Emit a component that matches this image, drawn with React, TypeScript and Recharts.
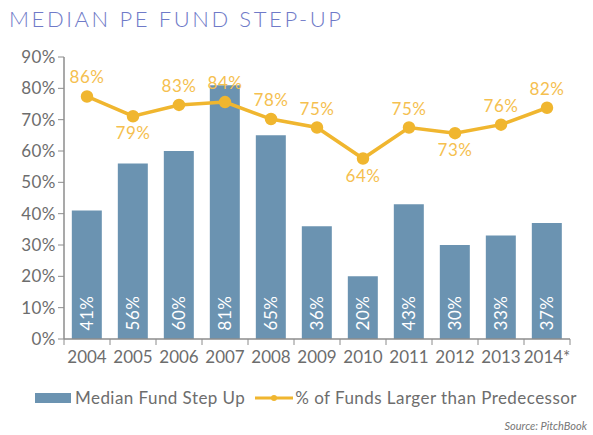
import React from 'react';
import {
  ComposedChart,
  Bar,
  Line,
  XAxis,
  YAxis,
  Legend,
  LabelList,
} from 'recharts';

const years = ['2004', '2005', '2006', '2007', '2008', '2009', '2010', '2011', '2012', '2013', '2014*'];
const medianStepUp = [41, 56, 60, 81, 65, 36, 20, 43, 30, 33, 37];
const pctLarger = [86, 79, 83, 84, 78, 75, 64, 75, 73, 76, 82];
const yTicks = [0, 10, 20, 30, 40, 50, 60, 70, 80, 90];
// labels that sit under the point instead of above it
const labelsBelow = ['2005', '2010', '2012'];

const data = years.map((year, i) => ({
  year,
  step: medianStepUp[i],
  larger: pctLarger[i],
}));

const W = 593;
const H = 435;
const MARGIN = { top: 57, right: 23, left: 10, bottom: 22 };
const Y_WIDTH = 54;
const BAND = (W - MARGIN.left - MARGIN.right - Y_WIDTH) / years.length;

const BAR = '#6b93b1';
const GOLD = '#f0b62f';
const GOLD_TEXT = '#f5c04f';
const AXIS = '#8c8c8c';
const TICK_TEXT = '#6d6d6d';
const FONT = 'Lato, "Open Sans", sans-serif';

// year label plus the small tick marks that sit between the categories
const YearTick = (props: any) => {
  const { x, y, payload, index } = props;
  const last = index === years.length - 1;
  return (
    <g>
      <line x1={x - BAND / 2} y1={y} x2={x - BAND / 2} y2={y + 6} stroke={AXIS} />
      {last && <line x1={x + BAND / 2} y1={y} x2={x + BAND / 2} y2={y + 6} stroke={AXIS} />}
      <text
        x={x}
        y={y + 24}
        textAnchor="middle"
        fill={TICK_TEXT}
        fontSize={17}
        fontFamily={FONT}
      >
        {payload.value}
      </text>
    </g>
  );
};

const BarValue = (props: any) => {
  const { x, y, width, height, value } = props;
  const cx = x + width / 2;
  const cy = y + height - 26;
  return (
    <text
      x={cx}
      y={cy}
      transform={`rotate(-90 ${cx} ${cy})`}
      textAnchor="middle"
      dominantBaseline="central"
      fill="#ffffff"
      fontSize={17}
      fontFamily={FONT}
      style={{ letterSpacing: 0.5 }}
    >
      {value}%
    </text>
  );
};

const LineValue = (props: any) => {
  const { x, y, value, index } = props;
  const below = labelsBelow.includes(years[index]);
  return (
    <text
      x={x}
      y={below ? y + 23 : y - 13}
      textAnchor="middle"
      fill={GOLD_TEXT}
      fontSize={17}
      fontFamily={FONT}
      style={{ letterSpacing: 0.5 }}
    >
      {value}%
    </text>
  );
};

const LegendContent = () => (
  <div
    style={{
      display: 'flex',
      alignItems: 'center',
      whiteSpace: 'nowrap',
      fontFamily: FONT,
      fontSize: 17,
      letterSpacing: 0.45,
      color: TICK_TEXT,
      paddingLeft: 25,
    }}
  >
    <svg width={36} height={10} style={{ marginRight: 4, flex: 'none' }}>
      <rect x={0} y={0} width={36} height={10} fill={BAR} />
    </svg>
    <span>Median Fund Step Up</span>
    <svg width={38} height={10} style={{ marginLeft: 10, marginRight: 2, flex: 'none' }}>
      <line x1={0} y1={5} x2={38} y2={5} stroke={GOLD} strokeWidth={3} />
      <circle cx={19} cy={5} r={3} fill={GOLD} />
    </svg>
    <span>% of Funds Larger than Predecessor</span>
  </div>
);

export default function App() {
  return (
    <div
      style={{
        position: 'absolute',
        left: 0,
        top: 0,
        width: W,
        height: H,
        background: '#ffffff',
      }}
    >
      <div
        style={{
          position: 'absolute',
          left: 9,
          top: 5,
          fontFamily: FONT,
          fontSize: 22,
          letterSpacing: 2.6,
          color: '#6f7ac8',
          fontWeight: 300,
        }}
      >
        MEDIAN PE FUND STEP-UP
      </div>
      <ComposedChart
        width={W}
        height={H}
        data={data}
        margin={MARGIN}
        barCategoryGap="17%"
      >
        <XAxis
          dataKey="year"
          height={48}
          axisLine={{ stroke: AXIS, strokeWidth: 1.5 }}
          tickLine={false}
          tickSize={0}
          tickMargin={0}
          tick={<YearTick />}
          interval={0}
        />
        <YAxis
          yAxisId="left"
          domain={[0, 90]}
          ticks={yTicks}
          width={Y_WIDTH}
          axisLine={{ stroke: AXIS, strokeWidth: 1.5 }}
          tickLine={{ stroke: AXIS }}
          tickSize={6}
          tick={{ fill: TICK_TEXT, fontSize: 17, fontFamily: FONT, style: { letterSpacing: 0.5 } }}
          tickFormatter={(v: number) => `${v}%`}
        />
        <YAxis yAxisId="right" orientation="right" domain={[0, 100]} hide />
        <Legend
          verticalAlign="bottom"
          height={26}
          wrapperStyle={{ left: 10, width: 580 }}
          content={<LegendContent />}
        />
        <Bar
          yAxisId="left"
          dataKey="step"
          name="Median Fund Step Up"
          fill={BAR}
          isAnimationActive={false}
        >
          <LabelList dataKey="step" content={<BarValue />} />
        </Bar>
        <Line
          yAxisId="right"
          dataKey="larger"
          name="% of Funds Larger than Predecessor"
          stroke={GOLD}
          strokeWidth={3.5}
          dot={{ r: 4.5, fill: GOLD, stroke: GOLD }}
          activeDot={false}
          isAnimationActive={false}
        >
          <LabelList dataKey="larger" content={<LineValue />} />
        </Line>
      </ComposedChart>
      <div
        style={{
          position: 'absolute',
          right: 6,
          top: 419,
          fontFamily: FONT,
          fontStyle: 'italic',
          fontSize: 11,
          color: '#777777',
        }}
      >
        Source: PitchBook
      </div>
    </div>
  );
}
